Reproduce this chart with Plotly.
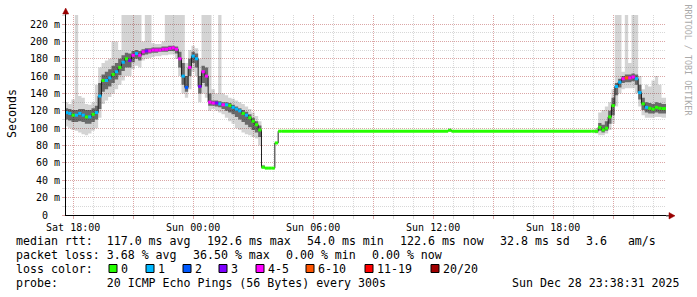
import pandas as pd
import plotly.graph_objects as go

# ---------------- data ----------------
t_start = "2025-12-27 17:38:31"
t_end = "2025-12-28 23:38:31"

# evening/night block, 10-minute samples
times_a = pd.date_range("2025-12-27 17:35", periods=65, freq="10min")
median_a = [118, 117, 115, 115, 117, 115, 113, 113, 116, 118,
            137, 155, 155, 158, 162, 165, 170, 176, 180, 178,
            184, 186, 184, 188, 189, 189, 190, 190, 190, 191,
            191, 192, 192.6, 191, 180, 160, 147, 170, 183, 180,
            148, 165, 160, 130, 129, 129, 128, 127, 127, 126,
            124, 122, 120, 117, 115, 112, 108, 104, 98, 55,
            54, 54, 54, 83, 96.5]
low_a = [102, 100, 98, 97, 95, 93, 92, 94, 97, 100,
         112, 128, 132, 136, 140, 145, 150, 155, 160, 160,
         168, 172, 170, 178, 180, 181, 182, 183, 183, 184,
         184, 185, 185, 180, 160, 140, 135, 145, 165, 160,
         130, 140, 135, 120, 122, 120, 118, 116, 112, 108,
         105, 100, 98, 95, 93, 92, 90, 88, 80, 54,
         54, 54, 54, 83, 96.5]
inner_low_a = [110, 109, 107, 107, 108, 107, 105, 105, 107, 110,
               122, 142, 145, 148, 152, 156, 161, 166, 170, 170,
               176, 180, 178, 184, 185, 186, 187, 187, 188, 188,
               188, 189, 189, 186, 170, 150, 142, 160, 175, 170,
               140, 152, 148, 126, 126, 125, 124, 122, 120, 118,
               116, 113, 110, 107, 104, 101, 98, 95, 90, 54,
               54, 54, 54, 83, 96.5]
inner_high_a = [123, 122, 121, 121, 122, 122, 121, 121, 123, 126,
                152, 162, 165, 168, 172, 175, 180, 184, 187, 186,
                189, 190, 189, 191, 192, 192, 193, 193, 193, 194,
                194, 195, 195, 194, 188, 175, 160, 180, 188, 186,
                160, 172, 170, 140, 132, 132, 131, 130, 130, 129,
                127, 125, 123, 121, 119, 116, 112, 108, 103, 57,
                54, 54, 54, 83, 96.5]
high_a = [130, 128, 133, 231, 137, 135, 128, 127, 130, 150,
          170, 175, 178, 180, 200, 200, 190, 231, 231, 231,
          231, 231, 231, 200, 231, 231, 198, 197, 197, 200,
          231, 231, 231, 231, 231, 231, 175, 190, 195, 192,
          180, 231, 231, 231, 145, 140, 231, 140, 138, 135,
          134, 132, 130, 128, 125, 122, 118, 114, 108, 58,
          54, 54, 54, 83, 96.5]
loss_a = [1, 1, 0, 1, 1, 1, 0, 1, 0, 1,
          1, 0, 1, 1, 0, 1, 0, 1, 0, 3,
          4, 1, 4, 4, 3, 4, 4, 4, 4, 4,
          4, 4, 4, 4, 4, 1, 2, 4, 1, 1,
          3, 4, 4, 4, 4, 3, 1, 4, 1, 0,
          1, 1, 1, 0, 1, 0, 0, 0, 0, 0,
          0, 0, 0, 0, 0]

# quiet daytime block
times_flat = pd.to_datetime(["2025-12-28 04:25", "2025-12-28 12:45", "2025-12-28 12:55"])
median_flat = [96.5, 97.5, 96.5]
low_flat = [96.5, 96.5, 96.5]
inner_low_flat = [96.5, 97, 96.5]
inner_high_flat = [96.5, 98, 96.5]
high_flat = [96.5, 100, 96.5]
loss_flat = [0, 0, 0]

# evening block, 10-minute samples
times_b = pd.date_range("2025-12-28 19:55", periods=22, freq="10min")
median_b = [96.5, 96.5, 101, 98, 100, 113, 126, 148, 153, 157, 158, 158,
            159, 157, 141, 128, 124, 123, 122, 124, 123, 122.6]
low_b = [96.5, 94, 92, 92, 94, 98, 105, 125, 140, 145, 146, 146,
         146, 140, 125, 115, 112, 112, 112, 113, 113, 112]
inner_low_b = [96.5, 95, 97, 95, 97, 105, 115, 138, 147, 152, 153, 153,
               154, 150, 133, 121, 118, 117, 117, 118, 117, 117]
inner_high_b = [96.5, 98, 106, 104, 108, 120, 135, 152, 157, 160, 162, 162,
                163, 162, 150, 135, 130, 129, 128, 130, 129, 128]
high_b = [96.5, 100, 118, 121, 125, 130, 145, 231, 231, 165, 231, 175,
          231, 231, 160, 145, 150, 148, 155, 160, 150, 135]
loss_b = [0, 0, 0, 0, 0, 0, 0, 1, 1, 4, 5, 4, 4, 1, 1, 0, 1, 0, 0, 0, 0, 0]

times_end = pd.to_datetime([t_end])
median_end = [122.6]
low_end = [112]
inner_low_end = [117]
inner_high_end = [128]
high_end = [135]
loss_end = [0]

loss_labels = ["0", "1", "2", "3", "4-5", "6-10", "11-19", "20/20"]
loss_colors = ["#26ff00", "#00b8ff", "#0059ff", "#7e00ff", "#ff00ff", "#ff5500", "#ff0000", "#a00000"]

x_tick_vals = pd.date_range("2025-12-27 18:00", "2025-12-28 21:00", freq="3h")
x_tick_text = ["Sat 18:00", "", "Sun 00:00", "", "Sun 06:00", "", "Sun 12:00", "", "Sun 18:00", ""]
y_tick_vals = [0, 20, 40, 60, 80, 100, 120, 140, 160, 180, 200, 220]
y_tick_text = ["0  ", "20 m", "40 m", "60 m", "80 m", "100 m", "120 m", "140 m",
               "160 m", "180 m", "200 m", "220 m"]

legend_line1 = ["median rtt:  117.0 ms avg", "192.6 ms max", "54.0 ms min",
                "122.6 ms now", "32.8 ms sd", "3.6   am/s"]
legend_line2 = ["packet loss: 3.68 % avg", "36.50 % max", "0.00 % min", "0.00 % now"]
legend_line3_title = "loss color:"
legend_line4 = "probe:       20 ICMP Echo Pings (56 Bytes) every 300s"
stamp = "Sun Dec 28 23:38:31 2025"

# ---------------- assemble ----------------
t = list(times_a) + list(times_flat) + list(times_b) + list(times_end)
med = median_a + median_flat + median_b + median_end
lo = low_a + low_flat + low_b + low_end
ilo = inner_low_a + inner_low_flat + inner_low_b + inner_low_end
ihi = inner_high_a + inner_high_flat + inner_high_b + inner_high_end
hi = high_a + high_flat + high_b + high_end
loss = loss_a + loss_flat + loss_b + loss_end

MONO = "DejaVu Sans Mono"
L, R, T, B = 66, 31, 15, 82
W, H = 697, 297
PW, PH = W - L - R, H - T - B


def px(x):
    return (x - L) / PW


def py(y):
    return (T + PH - y) / PH


def nb(s):
    return s.replace(" ", "\u00a0")


fig = go.Figure()
fig.add_trace(go.Scatter(x=t, y=lo, mode="lines", line=dict(width=0, shape="hv"),
                         hoverinfo="skip", showlegend=False))
fig.add_trace(go.Scatter(x=t, y=hi, mode="lines", line=dict(width=0, shape="hv"),
                         fill="tonexty", fillcolor="rgba(0,0,0,0.17)",
                         hoverinfo="skip", showlegend=False))
fig.add_trace(go.Scatter(x=t, y=ilo, mode="lines", line=dict(width=0, shape="hv"),
                         hoverinfo="skip", showlegend=False))
fig.add_trace(go.Scatter(x=t, y=ihi, mode="lines", line=dict(width=0, shape="hv"),
                         fill="tonexty", fillcolor="rgba(0,0,0,0.5)",
                         hoverinfo="skip", showlegend=False))
fig.add_trace(go.Scatter(x=t, y=med, mode="lines", line=dict(width=1, shape="hv", color="#202020"),
                         hoverinfo="skip", showlegend=False))

for c, col in enumerate(loss_colors):
    xs, ys = [], []
    for i in range(len(t) - 1):
        if loss[i] == c:
            xs += [t[i], t[i + 1], None]
            ys += [med[i], med[i], None]
    if xs:
        fig.add_trace(go.Scatter(x=xs, y=ys, mode="lines", line=dict(width=3, color=col),
                                 connectgaps=False, hoverinfo="skip", showlegend=False))

major_grid = "#dba6a6"
minor_grid = "#d8d8d8"

fig.update_layout(
    width=W, height=H, autosize=False,
    margin=dict(l=L, r=R, t=T, b=B, pad=0),
    paper_bgcolor="white", plot_bgcolor="white",
    showlegend=False,
    font=dict(family=MONO, size=10, color="black"),
    xaxis=dict(
        type="date", range=[t_start, t_end],
        tickmode="array", tickvals=list(x_tick_vals), ticktext=x_tick_text,
        showgrid=True, gridcolor=major_grid, griddash="1px,1px", gridwidth=1,
        ticks="outside", ticklen=3, tickcolor=major_grid, tickwidth=1,
        minor=dict(dtick=3600000, tick0="2025-12-27 18:00", showgrid=True,
                   gridcolor=minor_grid, griddash="1px,1px", gridwidth=1,
                   ticks="outside", ticklen=3, tickcolor=minor_grid),
        showline=True, linecolor="black", linewidth=1, zeroline=False,
        tickfont=dict(family=MONO, size=10, color="black"),
        fixedrange=True,
    ),
    yaxis=dict(
        range=[0, 230.4],
        tickmode="array", tickvals=y_tick_vals, ticktext=[nb(s) for s in y_tick_text],
        showgrid=True, gridcolor=major_grid, griddash="1px,1px", gridwidth=1,
        ticks="outside", ticklen=3, tickcolor=major_grid, tickwidth=1,
        minor=dict(dtick=10, tick0=0, showgrid=True, gridcolor=minor_grid,
                   griddash="1px,1px", gridwidth=1, ticks="outside", ticklen=3,
                   tickcolor=minor_grid),
        showline=True, linecolor="black", linewidth=1, zeroline=False,
        tickfont=dict(family=MONO, size=10, color="black"),
        fixedrange=True,
    ),
)

shapes = []
arrow_col = "#990000"
# axis extensions + arrows
shapes.append(dict(type="line", xref="paper", yref="paper", x0=1, x1=px(670), y0=py(215.8), y1=py(215.8),
                   line=dict(color="black", width=1)))
shapes.append(dict(type="path", xref="paper", yref="paper",
                   path=f"M {px(669)} {py(212.5)} L {px(675)} {py(215.8)} L {px(669)} {py(219)} Z",
                   fillcolor=arrow_col, line=dict(color=arrow_col, width=0.5)))
shapes.append(dict(type="line", xref="paper", yref="paper", x0=px(65.7), x1=px(65.7), y0=1, y1=py(12),
                   line=dict(color="black", width=1)))
shapes.append(dict(type="path", xref="paper", yref="paper",
                   path=f"M {px(62.7)} {py(14)} L {px(65.7)} {py(8)} L {px(68.7)} {py(14)} Z",
                   fillcolor=arrow_col, line=dict(color=arrow_col, width=0.5)))

annotations = []
font_leg = dict(family=MONO, size=11.6, color="black")


def text_at(s, x, y, anchor="left", font=font_leg, angle=0):
    annotations.append(dict(text=nb(s), x=px(x), y=py(y), xref="paper", yref="paper",
                            xanchor=anchor, yanchor="middle", showarrow=False, font=font,
                            textangle=angle, borderpad=0))


line1_x = [15, 206, 306, 399, 499, 585]
for s, x in zip(legend_line1, line1_x):
    text_at(s, x, 241)
line2_x = [15, 192, 285, 371]
for s, x in zip(legend_line2, line2_x):
    text_at(s, x, 255)
text_at(legend_line3_title, 15, 269)
box_x = [109, 146, 183, 219, 256, 306, 365, 431]
for lab, col, bx in zip(loss_labels, loss_colors, box_x):
    shapes.append(dict(type="rect", xref="paper", yref="paper",
                       x0=px(bx), x1=px(bx + 8), y0=py(272.5), y1=py(264.5),
                       fillcolor=col, line=dict(color="black", width=1)))
    text_at(lab, bx + 11, 269)
text_at(legend_line4, 15, 283)
text_at(stamp, 681, 283, anchor="right")

annotations.append(dict(text="Seconds", x=px(12), y=py(114), xref="paper", yref="paper",
                        xanchor="center", yanchor="middle", showarrow=False, textangle=-90,
                        font=dict(family=MONO, size=11.6, color="black")))
annotations.append(dict(text=nb("RRDTOOL / TOBI OETIKER"), x=px(687.5), y=py(60), xref="paper",
                        yref="paper", xanchor="center", yanchor="middle", showarrow=False,
                        textangle=90, font=dict(family=MONO, size=8.4, color="#aaaaaa")))

fig.update_layout(shapes=shapes, annotations=annotations)
fig.write_html("out.html")
